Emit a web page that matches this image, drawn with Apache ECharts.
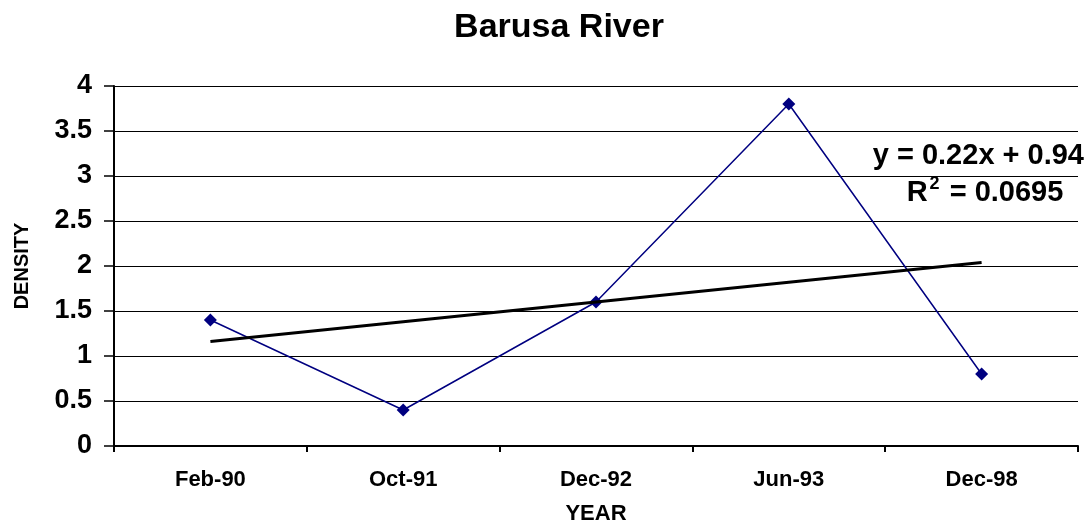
<!DOCTYPE html>
<html>
<head>
<meta charset="utf-8">
<script src="https://cdn.jsdelivr.net/npm/echarts@6/dist/echarts.min.js"></script>
<style>
  html, body { margin: 0; padding: 0; background: #fff; }
  #main { width: 1089px; height: 527px; }
</style>
</head>
<body>
<div id="main"></div>
<script>
// data
var years = ['Feb-90', 'Oct-91', 'Dec-92', 'Jun-93', 'Dec-98'];
var density = [1.4, 0.4, 1.6, 3.8, 0.8];
// linear trend y = 0.22x + 0.94 at each category
var trend = [1.16, 1.38, 1.60, 1.82, 2.04];
var yTicks = [0, 0.5, 1, 1.5, 2, 2.5, 3, 3.5, 4];

var font = 'Liberation Sans, Arial, sans-serif';
var chart = echarts.init(document.getElementById('main'));

var option = {
  animation: false,
  backgroundColor: '#fff',
  title: {
    text: 'Barusa River',
    left: 554,
    top: 6,
    textAlign: 'center',
    textStyle: { fontFamily: font, fontWeight: 'bold', fontSize: 34, color: '#000' }
  },
  grid: { left: 114, right: 11, top: 86, bottom: 81, containLabel: false, outerBoundsMode: 'none' },
  xAxis: {
    type: 'category',
    data: years,
    boundaryGap: true,
    name: 'YEAR',
    nameLocation: 'middle',
    nameGap: 57,
    nameTextStyle: { fontFamily: font, fontWeight: 'bold', fontSize: 22, color: '#000' },
    axisLine: { lineStyle: { color: '#000', width: 2 } },
    axisTick: { show: true, length: 6, lineStyle: { color: '#000', width: 2 } },
    axisLabel: { margin: 23, fontFamily: font, fontWeight: 'bold', fontSize: 22, color: '#000' },
    splitLine: { show: false }
  },
  yAxis: {
    type: 'value',
    min: yTicks[0],
    max: yTicks[yTicks.length - 1],
    interval: 0.5,
    name: 'DENSITY',
    nameLocation: 'middle',
    nameGap: 82,
    nameRotate: 90,
    nameTextStyle: { fontFamily: font, fontWeight: 'bold', fontSize: 20, color: '#000' },
    axisLine: { show: true, lineStyle: { color: '#000', width: 2 } },
    axisTick: { show: true, length: 10, lineStyle: { color: '#000', width: 1.5 } },
    axisLabel: { margin: 22, fontFamily: font, fontWeight: 'bold', fontSize: 27, color: '#000' },
    splitLine: { show: true, lineStyle: { color: '#000', width: 1 } }
  },
  series: [
    {
      name: 'Density',
      type: 'line',
      data: density,
      symbol: 'diamond',
      symbolSize: 13,
      lineStyle: { color: '#000080', width: 1.5 },
      itemStyle: { color: '#000080' },
      z: 3
    },
    {
      name: 'Trend',
      type: 'line',
      data: trend,
      symbol: 'none',
      lineStyle: { color: '#000', width: 3 },
      z: 4
    }
  ],
  graphic: [
    {
      type: 'text',
      x: 1084,
      y: 156,
      style: {
        text: 'y = 0.22x + 0.94',
        align: 'right',
        verticalAlign: 'middle',
        fontFamily: font, fontWeight: 'bold', fontSize: 29, fill: '#000'
      },
      z: 10
    },
    {
      type: 'text',
      x: 985,
      y: 193,
      style: {
        text: '{b|R}{s|2}{b| = 0.0695}',
        align: 'center',
        verticalAlign: 'middle',
        rich: {
          b: { fontFamily: font, fontWeight: 'bold', fontSize: 29, color: '#000' },
          s: { fontFamily: font, fontWeight: 'bold', fontSize: 18, color: '#000', padding: [0, 2, 17, 2] }
        }
      },
      z: 10
    }
  ]
};

chart.setOption(option);
</script>
</body>
</html>
